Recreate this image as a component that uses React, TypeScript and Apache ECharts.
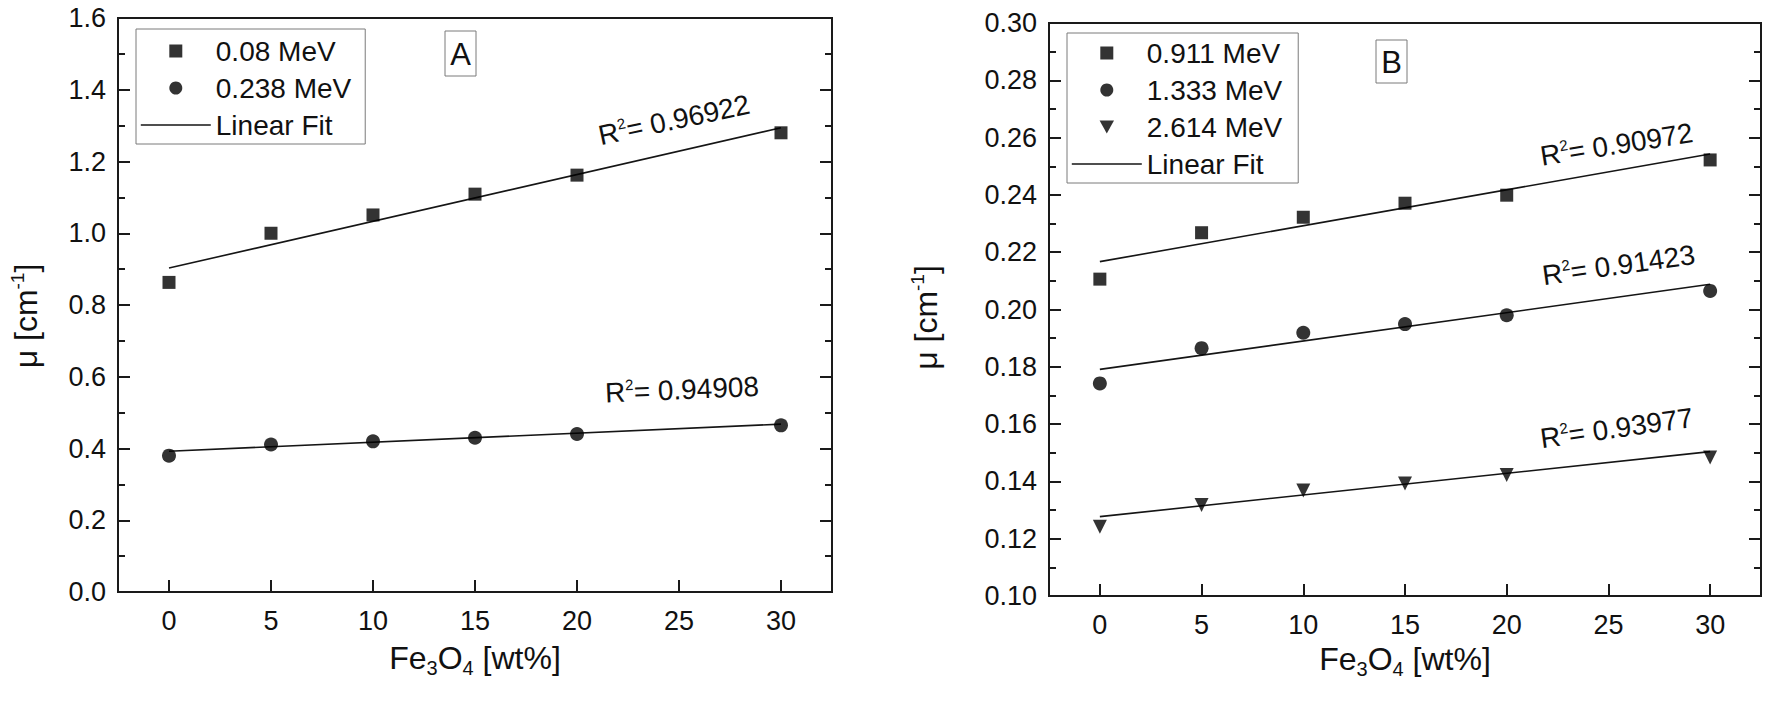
import React, { useEffect, useRef } from 'react';
import * as echarts from 'echarts';

const FONT = '"Liberation Sans", Arial, Helvetica, sans-serif';
const INK = '#111111';
const AXIS = '#1a1a1a';

// ---- data ----
const wtPct = [0, 5, 10, 15, 20, 30];
const xTicks = [0, 5, 10, 15, 20, 25, 30];
const fitX = [0, 30];

// Panel A
const muA_008 = [0.863, 1.0, 1.051, 1.109, 1.162, 1.28];
const muA_0238 = [0.38, 0.411, 0.42, 0.43, 0.4405, 0.4645];
const fitA_008 = [0.903, 1.294];
const fitA_0238 = [0.3925, 0.468];

// Panel B
const muB_0911 = [0.2106, 0.2268, 0.2322, 0.2371, 0.2399, 0.2522];
const muB_1333 = [0.1742, 0.1865, 0.1919, 0.1949, 0.198, 0.2065];
const muB_2614 = [0.1242, 0.1318, 0.1368, 0.1393, 0.1422, 0.1483];
const fitB_0911 = [0.2167, 0.2543];
const fitB_1333 = [0.1791, 0.2088];
const fitB_2614 = [0.1277, 0.1504];

// R^2 annotations: [x, y, text, rotation]
const r2A: [number, number, string, number][] = [
  [24.76, 1.316, '0.96922', 12],
  [25.15, 0.564, '0.94908', 2.5],
];
const r2B: [number, number, string, number][] = [
  [25.4, 0.2576, '0.90972', 9],
  [25.5, 0.2155, '0.91423', 8],
  [25.4, 0.1586, '0.93977', 8],
];

const legendA = ['0.08 MeV', '0.238 MeV', 'Linear Fit'];
const legendB = ['0.911 MeV', '1.333 MeV', '2.614 MeV', 'Linear Fit'];

const SQUARE = 'path://M0,0L10,0L10,10L0,10Z';
const DOWN_TRI = 'path://M0,0L10,0L5,9Z';

const zip = (xs: number[], ys: number[]) => xs.map((x, i) => [x, ys[i]]);

const xAxisCfg = (gridIndex: number, nameGap: number) => ({
  type: 'value',
  gridIndex,
  min: -2.5,
  max: 32.5,
  axisLine: { show: true, onZero: false, lineStyle: { color: AXIS, width: 2 } },
  axisTick: {
    show: true,
    inside: true,
    length: 12,
    customValues: xTicks,
    lineStyle: { color: AXIS, width: 2 },
  },
  axisLabel: { customValues: xTicks, fontSize: 27, margin: 15, color: INK, fontFamily: FONT },
  splitLine: { show: false },
  name: '{n|Fe}{b|3}{n|O}{b|4}{n| [wt%]}',
  nameLocation: 'middle',
  nameGap,
  nameTextStyle: {
    fontFamily: FONT,
    fontSize: 32,
    color: INK,
    rich: {
      n: { fontFamily: FONT, fontSize: 32, lineHeight: 40, color: INK },
      b: { fontFamily: FONT, fontSize: 20, lineHeight: 20, verticalAlign: 'bottom', color: INK },
    },
  },
});

const yAxisCfg = (
  gridIndex: number,
  min: number,
  max: number,
  interval: number,
  digits: number,
  side: 'left' | 'right',
  nameGap: number,
  shiftDown = 0
) => ({
  type: 'value',
  gridIndex,
  min,
  max,
  interval,
  position: side,
  axisLine: { show: true, onZero: false, lineStyle: { color: AXIS, width: 2 } },
  axisTick: { show: true, inside: true, length: 12, lineStyle: { color: AXIS, width: 2 } },
  minorTick: { show: true, splitNumber: 2, length: 7, lineStyle: { color: AXIS, width: 2 } },
  axisLabel: {
    show: side === 'left',
    formatter: (v: number) => v.toFixed(digits),
    fontSize: 27,
    margin: 12,
    color: INK,
    fontFamily: FONT,
  },
  splitLine: { show: false },
  minorSplitLine: { show: false },
  name: side === 'left' ? '{n|\u03bc [cm}{s|-1}{n|]}{p| }' : '',
  nameLocation: 'middle',
  nameGap,
  nameTextStyle: {
    fontFamily: FONT,
    fontSize: 32,
    color: INK,
    rich: {
      n: { fontFamily: FONT, fontSize: 32, lineHeight: 36, color: INK },
      s: { fontFamily: FONT, fontSize: 19, lineHeight: 19, verticalAlign: 'top', color: INK },
      p: { width: shiftDown * 2, fontSize: 32, lineHeight: 36, fontFamily: FONT, color: INK },
    },
  },
});

const scatter = (name: string, ys: number[], symbol: string, size: number, xi: number, yi: number, rotate = 0) => ({
  type: 'scatter',
  name,
  xAxisIndex: xi,
  yAxisIndex: yi,
  data: zip(wtPct, ys),
  symbol,
  symbolSize: size,
  symbolRotate: rotate,
  itemStyle: { color: '#000' },
  z: 3,
  silent: true,
});

const fit = (ys: number[], xi: number, yi: number) => ({
  type: 'line',
  name: 'Linear Fit',
  xAxisIndex: xi,
  yAxisIndex: yi,
  data: zip(fitX, ys),
  symbol: 'none',
  showSymbol: false,
  itemStyle: { color: '#151515' },
  lineStyle: { color: '#151515', width: 1.6 },
  z: 2,
  silent: true,
});

const noBorder = { textBorderWidth: 0, textBorderColor: 'transparent', textShadowBlur: 0 };

const r2Series = (items: [number, number, string, number][], xi: number, yi: number) => ({
  type: 'scatter',
  name: 'r2-' + xi,
  xAxisIndex: xi,
  yAxisIndex: yi,
  symbolSize: 1,
  itemStyle: { color: '#000000', opacity: 0 },
  silent: true,
  z: 4,
  label: {
    show: true,
    position: 'inside',
    color: INK,
    opacity: 1,
    ...noBorder,
    rich: {
      r: { fontFamily: FONT, fontSize: 28, lineHeight: 30, color: INK, ...noBorder },
      s: { fontFamily: FONT, fontSize: 15, lineHeight: 15, verticalAlign: 'top', color: INK, ...noBorder },
    },
  },
  data: items.map(([x, y, t, rot]) => ({
    value: [x, y],
    label: { formatter: `{r|R}{s|2}{r|= ${t}}`, rotate: rot },
  })),
});

const legendCfg = (left: number, top: number, data: any[], padTop: number, padRight: number) => ({
  left,
  top,
  orient: 'vertical',
  data,
  itemWidth: 70,
  itemHeight: 13,
  itemGap: 7,
  borderColor: '#7a7a7a',
  borderWidth: 1,
  padding: [padTop, padRight, 4, 4],
  selectedMode: false,
  textStyle: { fontSize: 28, lineHeight: 30, color: INK, fontFamily: FONT },
});

const fitLegendItem = {
  name: 'Linear Fit',
  itemStyle: { opacity: 0 },
  lineStyle: { color: '#151515', width: 1.6 },
};

export default function App() {
  const ref = useRef<HTMLDivElement>(null);

  useEffect(() => {
    document.body.style.margin = '0';
    if (!ref.current) return;
    const chart = echarts.init(ref.current, undefined, { renderer: 'svg' });

    const option: any = {
      animation: false,
      backgroundColor: '#ffffff',
      textStyle: { fontFamily: FONT },
      grid: [
        { left: 118, top: 18, width: 714, height: 574, show: true, borderColor: AXIS, borderWidth: 2, backgroundColor: 'transparent' },
        { left: 1049, top: 23, width: 712, height: 573, show: true, borderColor: AXIS, borderWidth: 2, backgroundColor: 'transparent' },
      ],
      xAxis: [xAxisCfg(0, 46), xAxisCfg(1, 42)],
      yAxis: [
        yAxisCfg(0, 0, 1.6, 0.2, 1, 'left', 74, 11),
        yAxisCfg(0, 0, 1.6, 0.2, 1, 'right', 20),
        yAxisCfg(1, 0.1, 0.3, 0.02, 2, 'left', 105, 8),
        yAxisCfg(1, 0.1, 0.3, 0.02, 2, 'right', 20),
      ],
      legend: [
        legendCfg(136, 29, [{ name: legendA[0], icon: SQUARE }, legendA[1], fitLegendItem], 7, 14),
        legendCfg(
          1067,
          33,
          [{ name: legendB[0], icon: SQUARE }, legendB[1], { name: legendB[2], icon: DOWN_TRI }, fitLegendItem],
          5,
          16
        ),
      ],
      graphic: [
        { type: 'rect', shape: { x: 445, y: 31, width: 31, height: 45 }, style: { fill: 'rgba(0,0,0,0)', stroke: '#7a7a7a', lineWidth: 1 } },
        { type: 'text', x: 460.5, y: 54, style: { text: 'A', fontSize: 31, fontFamily: FONT, fill: INK, align: 'center', verticalAlign: 'middle' } },
        { type: 'rect', shape: { x: 1376, y: 40, width: 31, height: 43 }, style: { fill: 'rgba(0,0,0,0)', stroke: '#7a7a7a', lineWidth: 1 } },
        { type: 'text', x: 1391.5, y: 62, style: { text: 'B', fontSize: 31, fontFamily: FONT, fill: INK, align: 'center', verticalAlign: 'middle' } },
      ],
      series: [
        fit(fitA_008, 0, 0),
        fit(fitA_0238, 0, 0),
        scatter('0.08 MeV', muA_008, 'rect', 13, 0, 0),
        scatter('0.238 MeV', muA_0238, 'circle', 14, 0, 0),
        r2Series(r2A, 0, 0),
        fit(fitB_0911, 1, 2),
        fit(fitB_1333, 1, 2),
        fit(fitB_2614, 1, 2),
        scatter('0.911 MeV', muB_0911, 'rect', 13, 1, 2),
        scatter('1.333 MeV', muB_1333, 'circle', 14, 1, 2),
        scatter('2.614 MeV', muB_2614, 'triangle', 14, 1, 2, 180),
        r2Series(r2B, 1, 2),
      ],
    };

    chart.setOption(option);
    return () => chart.dispose();
  }, []);

  return <div ref={ref} style={{ width: 1770, height: 707 }} />;
}
